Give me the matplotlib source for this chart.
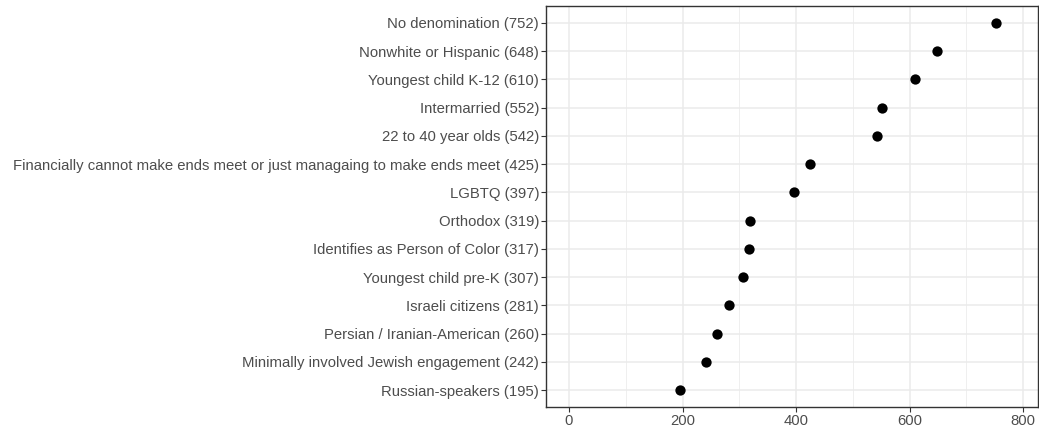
import matplotlib.pyplot as plt
from matplotlib.ticker import MultipleLocator

plt.rcParams['font.family'] = ['Liberation Sans', 'DejaVu Sans']

labels = [
    "No denomination (752)",
    "Nonwhite or Hispanic (648)",
    "Youngest child K-12 (610)",
    "Intermarried (552)",
    "22 to 40 year olds (542)",
    "Financially cannot make ends meet or just managaing to make ends meet (425)",
    "LGBTQ (397)",
    "Orthodox (319)",
    "Identifies as Person of Color (317)",
    "Youngest child pre-K (307)",
    "Israeli citizens (281)",
    "Persian / Iranian-American (260)",
    "Minimally involved Jewish engagement (242)",
    "Russian-speakers (195)",
]
values = [752, 648, 610, 552, 542, 425, 397, 319, 317, 307, 281, 260, 242, 195]

# bottom row is smallest
labels = labels[::-1]
values = values[::-1]
ypos = list(range(1, len(values) + 1))

fig = plt.figure(figsize=(10.39, 4.29), dpi=100)
ax = fig.add_axes([546 / 1039, 1 - 407 / 429, (1038 - 546) / 1039, (407 - 6) / 429])

ax.scatter(values, ypos, s=55, color='black', zorder=3, linewidths=0)

ax.set_xlim(-40.5, 826)
ax.set_ylim(0.4, len(values) + 0.6)
ax.xaxis.set_major_locator(MultipleLocator(200))
ax.xaxis.set_minor_locator(MultipleLocator(100))
ax.set_yticks(ypos)
ax.set_yticklabels(labels)

ax.grid(which='major', color='#EBEBEB', linewidth=1.1, zorder=0)
ax.grid(which='minor', axis='x', color='#EBEBEB', linewidth=0.55, zorder=0)
ax.set_axisbelow(True)

for s in ax.spines.values():
    s.set_color('#333333')
    s.set_linewidth(1.0)

ax.tick_params(which='major', length=3.5, width=0.8, color='#333333',
               labelcolor='#4D4D4D', labelsize=10.7, pad=1.5)
ax.tick_params(which='minor', length=0)

fig.savefig("out.png", dpi=100)
